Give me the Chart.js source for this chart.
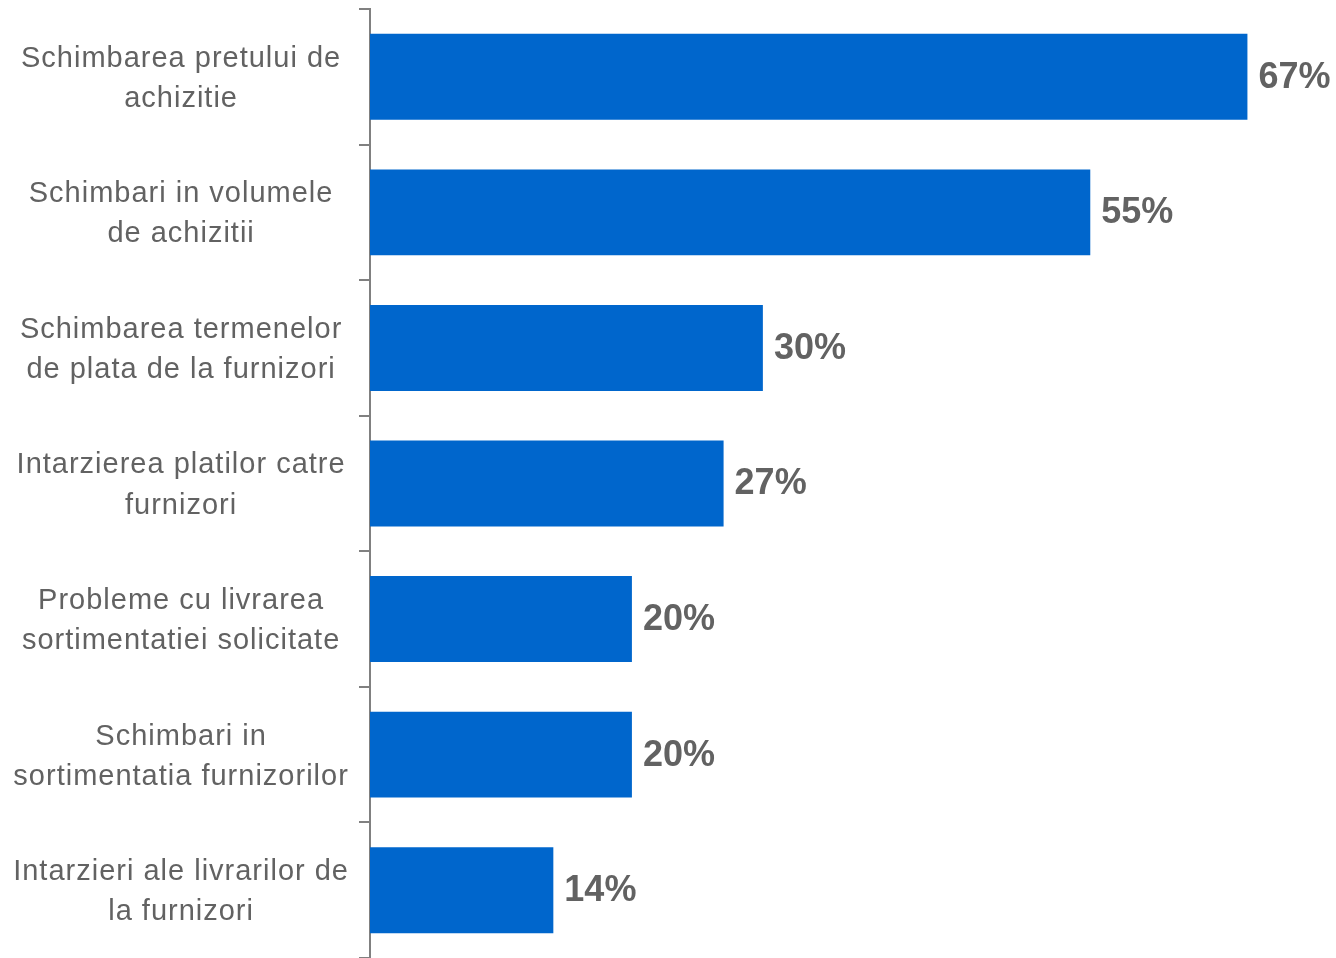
<!DOCTYPE html>
<html>
<head>
<meta charset="utf-8">
<title>Efecte asupra relatiei cu furnizorii</title>
<script src="https://cdn.jsdelivr.net/npm/chart.js@4/dist/chart.umd.min.js"></script>
<style>
  html, body { margin: 0; padding: 0; background: #fff; }
  canvas { display: block; }
</style>
</head>
<body>
<canvas id="myChart" width="1336" height="958"></canvas>
<script>
// categories (each split over two lines) and share of respondents, %
const categories = [
  ['Schimbarea pretului de', 'achizitie'],
  ['Schimbari in volumele', 'de achizitii'],
  ['Schimbarea termenelor', 'de plata de la furnizori'],
  ['Intarzierea platilor catre', 'furnizori'],
  ['Probleme cu livrarea', 'sortimentatiei solicitate'],
  ['Schimbari in', 'sortimentatia furnizorilor'],
  ['Intarzieri ale livrarilor de', 'la furnizori']
];
const values = [67, 55, 30, 27, 20, 20, 14];

const barColor = '#0066cc';
const textColor = '#626262';
const axisColor = '#808080';
const fontFamily = "'Liberation Sans', Arial, sans-serif";

const ctx = document.getElementById('myChart').getContext('2d');

// slightly wider tracking for the category labels
const spacing = {
  id: 'spacing',
  beforeUpdate(chart) { chart.ctx.letterSpacing = '1px'; },
  beforeDraw(chart) { chart.ctx.letterSpacing = '1px'; }
};

// percentage written just past the end of each bar
const valueLabels = {
  id: 'valueLabels',
  afterDatasetsDraw(chart) {
    const c = chart.ctx;
    const meta = chart.getDatasetMeta(0);
    c.save();
    c.letterSpacing = '0px';
    c.font = 'bold 36px ' + fontFamily;
    c.fillStyle = textColor;
    c.textAlign = 'left';
    c.textBaseline = 'middle';
    meta.data.forEach((bar, i) => {
      c.fillText(values[i] + '%', bar.x + 11, bar.y + 1);
    });
    c.restore();
  }
};

const myChart = new Chart(ctx, {
  type: 'bar',
  data: {
    labels: categories,
    datasets: [{
      data: values,
      backgroundColor: barColor,
      borderWidth: 0,
      barPercentage: 0.634,
      categoryPercentage: 1
    }]
  },
  options: {
    indexAxis: 'y',
    responsive: false,
    animation: false,
    layout: { padding: { top: 9, right: 10, bottom: 0, left: 0 } },
    plugins: {
      legend: { display: false },
      tooltip: { enabled: false }
    },
    scales: {
      x: {
        display: false,
        min: 0,
        max: 73
      },
      y: {
        afterFit(scale) {
          // fixed axis width, and no extra room for the two-line labels at the ends
          scale.width = 370;
          scale.paddingTop = 0;
          scale.paddingBottom = 0;
        },
        grid: {
          offset: true,
          drawOnChartArea: false,
          drawTicks: true,
          tickLength: 11,
          color: axisColor,
          lineWidth: 2
        },
        border: { display: true, color: axisColor, width: 2 },
        ticks: {
          crossAlign: 'center',
          padding: 10,
          labelOffset: 2,
          color: textColor,
          font: { family: fontFamily, size: 29, lineHeight: 1.38 }
        }
      }
    }
  },
  plugins: [spacing, valueLabels]
});
</script>
</body>
</html>
